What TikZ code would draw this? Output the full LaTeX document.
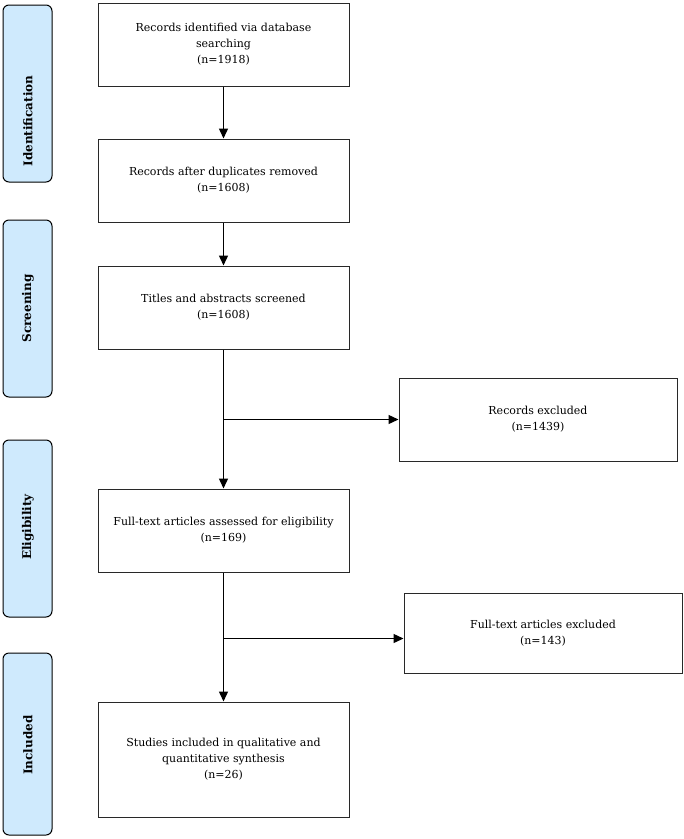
\documentclass[tikz,border=0pt]{standalone}
\usepackage{fontspec}
\setmainfont{DejaVu Serif}
\usetikzlibrary{arrows.meta}
\definecolor{barfill}{RGB}{207,234,253}
\definecolor{boxline}{RGB}{40,40,40}
\begin{document}
\begin{tikzpicture}[x=1pt,y=-1pt,
  box/.style={draw=boxline, line width=1pt, fill=white, align=center, font=\fontsize{11}{16}\selectfont, inner sep=0pt},
  bar/.style={draw=black, line width=1pt, fill=barfill, rounded corners=6pt, minimum width=49pt, inner sep=0pt},
  barlabel/.style={rotate=90, font=\fontsize{12}{14}\selectfont\bfseries},
  arr/.style={draw=black, line width=1.4pt, -{Triangle[length=10pt,width=9pt]}},
  ln/.style={draw=black, line width=1.4pt}]
\useasboundingbox (0,0) rectangle (684,839);

% side bars
\node[bar, minimum height=177pt] (b1) at (27.5,93.5) {};
\node[bar, minimum height=177pt] (b2) at (27.5,308.5) {};
\node[bar, minimum height=177pt] (b3) at (27.5,528.5) {};
\node[bar, minimum height=182pt] (b4) at (27.5,744) {};
\node[barlabel] (l1) at (28,121) {Identification};
\node[barlabel] (l2) at (28,308.5) {Screening};
\node[barlabel] (l3) at (28,527) {Eligibility};
\node[barlabel] (l4) at (28,745) {Included};

% main boxes
\node[box, minimum width=251pt, minimum height=83pt] (n1) at (223.5,44.5) {Records identified via database\\searching\\(n=1918)};
\node[box, minimum width=251pt, minimum height=83pt] (n2) at (223.5,180.5) {Records after duplicates removed\\(n=1608)};
\node[box, minimum width=251pt, minimum height=83pt] (n3) at (223.5,307.5) {Titles and abstracts screened\\(n=1608)};
\node[box, minimum width=251pt, minimum height=83pt] (n4) at (223.5,530.5) {Full-text articles assessed for eligibility\\(n=169)};
\node[box, minimum width=251pt, minimum height=115pt] (n5) at (223.5,759.5) {Studies included in qualitative and\\quantitative synthesis\\(n=26)};

% exclusion boxes
\node[box, minimum width=278pt, minimum height=83pt] (e1) at (538,419.5) {Records excluded\\(n=1439)};
\node[box, minimum width=278pt, minimum height=80pt] (e2) at (543,633) {Full-text articles excluded\\(n=143)};

\coordinate (j1) at (223.5,419.5);
\coordinate (j2) at (223.5,638.5);

\draw[arr] (n1) -- (n2);
\draw[arr] (n2) -- (n3);
\draw[arr] (n3) -- (n4);
\draw[arr] (n4) -- (n5);
\draw[arr] (j1) -- (e1.west);
\draw[arr] (j2) -- (j2 -| e2.west);
\end{tikzpicture}
\end{document}
